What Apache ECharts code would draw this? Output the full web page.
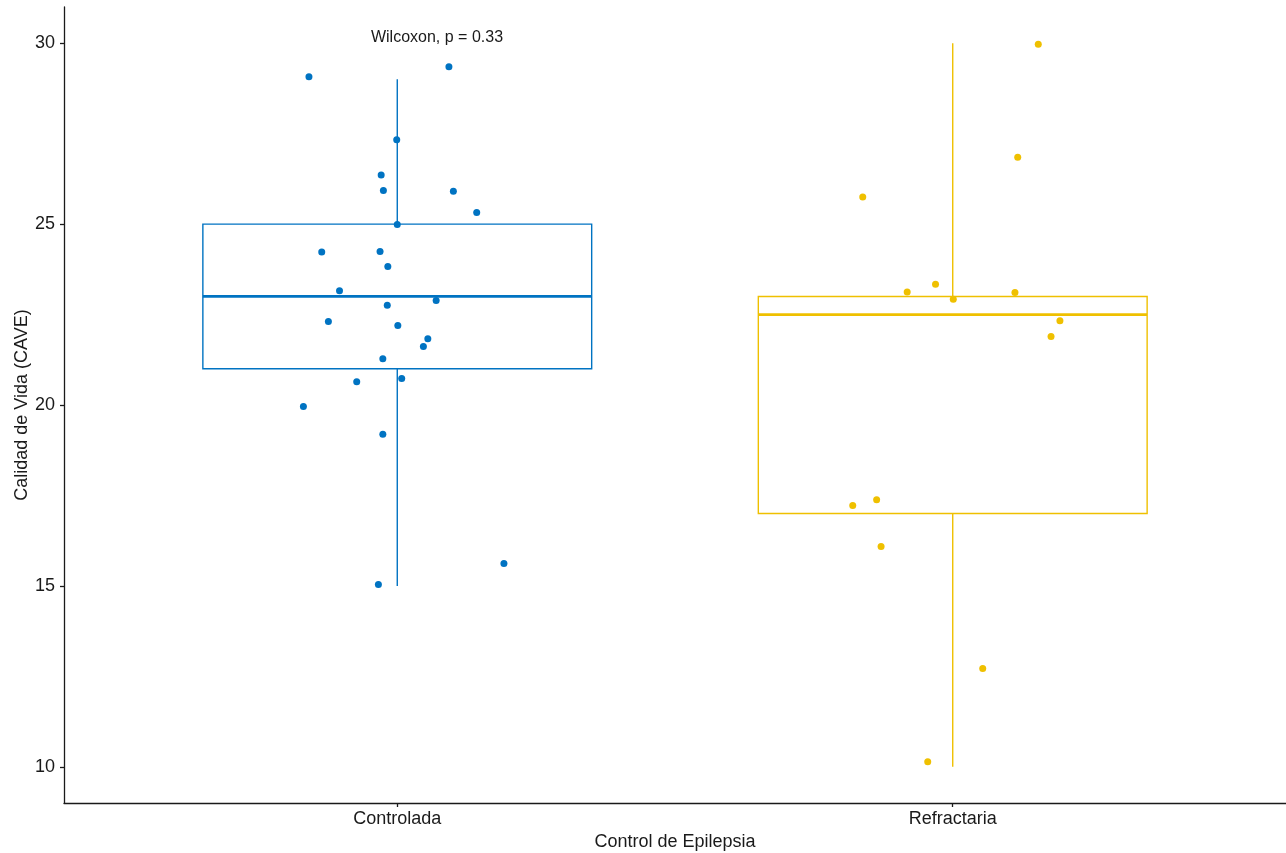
<!DOCTYPE html>
<html>
<head>
<meta charset="utf-8">
<script src="https://cdn.jsdelivr.net/npm/echarts@6/dist/echarts.min.js"></script>
<style>
  html, body { margin: 0; padding: 0; background: #fff; overflow: hidden; }
  #chart { width: 1286px; height: 853px; }
</style>
</head>
<body>
<div id="chart"></div>
<script>
// Group labels and their positions on the x scale
const groups = ['Controlada', 'Refractaria'];
const groupPos = [1, 2];

// Box statistics per group: lower whisker, Q1, median, Q3, upper whisker
const whiskerLow = [15, 10];
const q1 = [21, 17];
const median = [23, 22.5];
const q3 = [25, 23];
const whiskerHigh = [29, 30];

// Jittered observations [x, CAVE score]
const controladaPts = [
  [0.841, 29.07], [1.093, 29.35], [0.999, 27.33], [0.971, 26.36], [0.975, 25.93],
  [1.101, 25.91], [1.143, 25.32], [1.000, 24.99], [0.864, 24.23], [0.969, 24.24],
  [0.983, 23.83], [0.896, 23.16], [1.070, 22.89], [0.982, 22.76], [0.876, 22.31],
  [1.001, 22.20], [1.055, 21.83], [1.047, 21.62], [0.974, 21.28], [1.008, 20.73],
  [0.927, 20.64], [0.831, 19.96], [0.974, 19.19], [1.192, 15.62], [0.966, 15.04]
];
const refractariaPts = [
  [1.838, 25.75], [2.154, 29.97], [2.117, 26.85], [1.918, 23.12], [1.969, 23.34],
  [2.001, 22.92], [2.112, 23.11], [2.193, 22.33], [2.177, 21.89], [1.820, 17.22],
  [1.863, 17.38], [1.871, 16.09], [2.054, 12.72], [1.955, 10.14]
];

// Axis ticks
const yTicks = [10, 15, 20, 25, 30];

const colors = ['#0073C2', '#EFC000'];
const boxWidth = 0.7;

const boxData = groupPos.map((x, i) => [x, whiskerLow[i], q1[i], median[i], q3[i], whiskerHigh[i], i]);

function renderBox(params, api) {
  const x = api.value(0);
  const lo = api.coord([x, api.value(1)]);
  const b1 = api.coord([x, api.value(2)]);
  const md = api.coord([x, api.value(3)]);
  const b3 = api.coord([x, api.value(4)]);
  const hi = api.coord([x, api.value(5)]);
  const w = api.size([boxWidth, 0])[0];
  const color = colors[api.value(6)];
  const cx = lo[0];
  const lineStyle = { stroke: color, lineWidth: 1.4, fill: null };
  return {
    type: 'group',
    children: [
      { type: 'line', shape: { x1: cx, y1: b3[1], x2: cx, y2: hi[1] }, style: lineStyle },
      { type: 'line', shape: { x1: cx, y1: b1[1], x2: cx, y2: lo[1] }, style: lineStyle },
      { type: 'rect', shape: { x: cx - w / 2, y: b3[1], width: w, height: b1[1] - b3[1] },
        style: { stroke: color, lineWidth: 1.4, fill: '#ffffff' } },
      { type: 'line', shape: { x1: cx - w / 2, y1: md[1], x2: cx + w / 2, y2: md[1] },
        style: { stroke: color, lineWidth: 2.8 } }
    ]
  };
}

const textColor = '#1a1a1a';
const font = 'Liberation Sans, Arial, Helvetica, sans-serif';

const el = document.getElementById('chart');
const chart = echarts.init(el, null, { renderer: 'canvas', width: 1286, height: 853 });
chart.setOption({
  animation: false,
  backgroundColor: '#ffffff',
  grid: { left: 64, right: 0, top: 7, bottom: 50, containLabel: false, outerBoundsMode: 'none' },
  xAxis: {
    type: 'value',
    min: 0.4,
    max: 2.6,
    name: 'Control de Epilepsia',
    nameLocation: 'middle',
    nameGap: 30,
    nameTextStyle: { color: textColor, fontSize: 18, fontFamily: font },
    axisLine: { show: true, onZero: false, lineStyle: { color: '#1a1a1a', width: 1.3 } },
    axisTick: { show: true, length: 4, customValues: groupPos, lineStyle: { color: '#1a1a1a', width: 1.3 } },
    axisLabel: {
      customValues: groupPos,
      color: textColor, fontSize: 18, fontFamily: font, margin: 7,
      formatter: v => groups[groupPos.indexOf(Math.round(v))] || ''
    },
    splitLine: { show: false }
  },
  yAxis: {
    type: 'value',
    min: 9,
    max: 31,
    name: 'Calidad de Vida (CAVE)',
    nameLocation: 'middle',
    nameGap: 33,
    nameRotate: 90,
    nameMoveOverlap: false,
    nameTextStyle: { color: textColor, fontSize: 18, fontFamily: font },
    axisLine: { show: true, onZero: false, lineStyle: { color: '#1a1a1a', width: 1.3 } },
    axisTick: { show: true, length: 4, customValues: yTicks, lineStyle: { color: '#1a1a1a', width: 1.3 } },
    axisLabel: { customValues: yTicks, color: textColor, fontSize: 18, fontFamily: font, margin: 9 },
    splitLine: { show: false }
  },
  graphic: [{
    type: 'text',
    x: 437,
    y: 38,
    style: {
      text: 'Wilcoxon, p = 0.33',
      fill: textColor,
      font: '16px ' + font,
      align: 'center',
      verticalAlign: 'middle'
    }
  }],
  series: [
    {
      type: 'custom',
      renderItem: renderBox,
      data: boxData,
      z: 1
    },
    {
      type: 'scatter',
      data: controladaPts,
      symbolSize: 7,
      itemStyle: { color: colors[0], opacity: 1 },
      z: 3
    },
    {
      type: 'scatter',
      data: refractariaPts,
      symbolSize: 7,
      itemStyle: { color: colors[1], opacity: 1 },
      z: 3
    }
  ]
});
</script>
</body>
</html>
